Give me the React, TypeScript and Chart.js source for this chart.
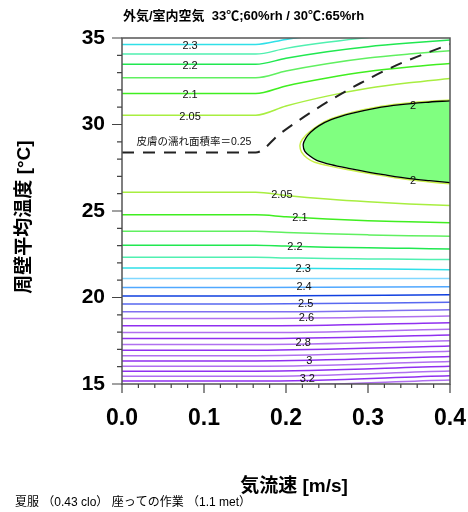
import { useEffect, useRef } from "react";
import { Chart, registerables } from "chart.js";

Chart.register(...registerables);

const FONT = "'Liberation Sans', 'Noto Sans CJK JP', sans-serif";

// ---- texts ----
const titleText = "外気/室内空気  33℃;60%rh / 30℃:65%rh";
const xTitle = "気流速 [m/s]";
const yTitle = "周壁平均温度 [°C]";
const footerText = "夏服 （0.43 clo） 座っての作業 （1.1 met）";
const wetLabel = "皮膚の濡れ面積率＝0.25";
const wetLabelPos = [0.0878, 28.99];

// ---- axes ----
const xMin = 0;
const xMax = 0.4;
const yMin = 15;
const yMax = 35;

// ---- contour lines above the comfort zone (curving up to the right) ----
const curveX = [0, 0.163, 0.2, 0.25, 0.3, 0.35, 0.4];
const upperLevels = [2.05, 2.1, 2.15, 2.2, 2.25, 2.3];
const upperTemps = [
  [30.54, 30.54, 31.07, 31.64, 32.09, 32.41, 32.66],
  [31.79, 31.79, 32.23, 32.69, 33.06, 33.32, 33.53],
  [32.7, 32.7, 33.09, 33.51, 33.84, 34.07, 34.26],
  [33.48, 33.48, 33.83, 34.21, 34.5, 34.71, 34.88],
  [34.07, 34.07, 34.4, 34.75, 35.03, 35.22, 35.38],
  [34.63, 34.63, 34.92, 35.23, 35.48, 35.65, 35.79],
];

// ---- contour lines below the zone (bending down to the right) ----
const lowerLevels = [2.05, 2.1, 2.15, 2.2, 2.25];
const lowerTemps = [
  [26.09, 26.09, 25.9, 25.69, 25.53, 25.41, 25.32],
  [24.78, 24.78, 24.67, 24.54, 24.44, 24.38, 24.32],
  [23.83, 23.83, 23.76, 23.68, 23.62, 23.57, 23.54],
  [23.02, 23.02, 22.97, 22.91, 22.87, 22.84, 22.81],
  [22.32, 22.32, 22.29, 22.25, 22.23, 22.21, 22.19],
];

// ---- nearly straight contour lines in the lower half ----
const flatX = [0, 0.163, 0.4];
const flatLevels = [
  2.3, 2.35, 2.4, 2.45, 2.5, 2.55, 2.6, 2.65, 2.7, 2.75, 2.8, 2.85, 2.9, 2.95,
  3.0, 3.05, 3.1, 3.15, 3.2,
];
const flatTemps = [
  [21.71, 21.71, 21.61],
  [21.1, 21.1, 21.1],
  [20.58, 20.58, 20.62],
  [20.08, 20.08, 20.16],
  [19.62, 19.62, 19.72],
  [19.17, 19.17, 19.29],
  [18.79, 18.79, 18.93],
  [18.36, 18.36, 18.54],
  [17.97, 17.97, 18.16],
  [17.63, 17.63, 17.83],
  [17.28, 17.28, 17.5],
  [16.95, 16.95, 17.19],
  [16.64, 16.64, 16.89],
  [16.33, 16.33, 16.59],
  [16.03, 16.03, 16.3],
  [15.74, 15.74, 16.02],
  [15.45, 15.45, 15.75],
  [15.17, 15.17, 15.48],
  [14.91, 14.91, 15.23],
];

// ---- level 2 zone (filled) ----
const zoneX = [0.4, 0.37, 0.34, 0.31, 0.28, 0.255, 0.24, 0.23, 0.224, 0.221, 0.223, 0.23, 0.2375, 0.255, 0.278, 0.3, 0.319, 0.351, 0.375, 0.4];
const zoneT = [31.37, 31.28, 31.15, 30.95, 30.64, 30.28, 29.92, 29.55, 29.2, 28.85, 28.45, 28.15, 27.93, 27.68, 27.45, 27.25, 27.1, 26.87, 26.75, 26.64];
const zoneLineX = [0.4, 0.37, 0.34, 0.31, 0.28, 0.255, 0.24, 0.228, 0.22, 0.217, 0.219, 0.226, 0.235, 0.255, 0.278, 0.3, 0.319, 0.351, 0.375, 0.4];
const zoneLineT = [31.42, 31.33, 31.2, 31.0, 30.7, 30.33, 29.97, 29.55, 29.15, 28.8, 28.4, 28.05, 27.82, 27.58, 27.37, 27.18, 27.03, 26.8, 26.68, 26.57];

// ---- skin wettedness 0.25 (dashed) ----
const wetX = [0, 0.163, 0.193, 0.2375, 0.29, 0.335, 0.4];
const wetT = [28.38, 28.38, 29.48, 30.92, 32.37, 33.43, 34.65];

// ---- contour labels ----
const labelText = ["2.3", "2.2", "2.1", "2.05", "2.05", "2.1", "2.2", "2.3", "2.4", "2.5", "2.6", "2.8", "3", "3.2", "2", "2"];
const labelX = [0.083, 0.083, 0.083, 0.083, 0.195, 0.217, 0.211, 0.221, 0.222, 0.224, 0.225, 0.221, 0.2285, 0.226, 0.355, 0.355];
const labelT = [34.54, 33.38, 31.71, 30.44, 25.9, 24.58, 22.94, 21.65, 20.58, 19.62, 18.81, 17.36, 16.33, 15.27, 31.06, 26.73];

// ---- styles ----
const levelColor: Record<string, string> = {
  "2": "#c8f048",
  "2.05": "#a8ee40",
  "2.1": "#40ee20",
  "2.15": "#60f060",
  "2.2": "#20e850",
  "2.25": "#50f0b0",
  "2.3": "#30e0e8",
  "2.35": "#80d8ff",
  "2.4": "#50a8ff",
  "2.45": "#1040e0",
  "2.5": "#5868f0",
  "2.55": "#8070f0",
};
function colorFor(level: number, idx: number) {
  const key = String(Number(level.toFixed(2)));
  if (levelColor[key]) return levelColor[key];
  return idx % 2 === 0 ? "#b070f0" : "#9030f0";
}

function pts(xs: number[], ys: number[]) {
  return xs.map((x, i) => ({ x, y: ys[i] }));
}

const decor = {
  id: "decor",
  afterDatasetsDraw(chart: any) {
    const { ctx, chartArea: a, scales } = chart;
    const x = scales.x;
    const y = scales.y;
    ctx.save();
    // frame
    ctx.strokeStyle = "#555";
    ctx.lineWidth = 1.5;
    ctx.strokeRect(a.left, a.top, a.right - a.left, a.bottom - a.top);
    // tick marks
    ctx.beginPath();
    ctx.lineWidth = 1.2;
    ctx.strokeStyle = "#444";
    for (let v = yMin; v <= yMax; v++) {
      const py = y.getPixelForValue(v);
      const len = v % 5 === 0 ? 10 : 5;
      ctx.moveTo(a.left - len, py);
      ctx.lineTo(a.left, py);
    }
    for (let i = 0; i <= 20; i++) {
      const px = x.getPixelForValue(i * 0.02);
      const len = i % 5 === 0 ? 9 : 4;
      ctx.moveTo(px, a.bottom);
      ctx.lineTo(px, a.bottom + len);
    }
    ctx.stroke();
    // contour labels
    ctx.fillStyle = "#111";
    ctx.font = `11px ${FONT}`;
    ctx.textAlign = "center";
    ctx.textBaseline = "middle";
    labelText.forEach((t, i) => {
      ctx.fillText(t, x.getPixelForValue(labelX[i]), y.getPixelForValue(labelT[i]));
    });
    ctx.font = `10.5px ${FONT}`;
    ctx.fillText(wetLabel, x.getPixelForValue(wetLabelPos[0]), y.getPixelForValue(wetLabelPos[1]));
    ctx.restore();
  },
  afterDraw(chart: any) {
    const { ctx, chartArea: a } = chart;
    ctx.save();
    ctx.fillStyle = "#000";
    ctx.textBaseline = "middle";
    ctx.textAlign = "left";
    ctx.font = `bold 13px ${FONT}`;
    ctx.fillText(titleText, a.left + 1, 16);
    ctx.font = `bold 19px ${FONT}`;
    ctx.textAlign = "center";
    ctx.fillText(xTitle, 294, 487);
    ctx.save();
    ctx.translate(25, 217);
    ctx.rotate(-Math.PI / 2);
    ctx.fillText(yTitle, 0, 0);
    ctx.restore();
    ctx.textAlign = "left";
    ctx.font = `12px ${FONT}`;
    ctx.fillText(footerText, 15, 503);
    ctx.restore();
  },
};

export default function App() {
  const ref = useRef<HTMLCanvasElement>(null);
  useEffect(() => {
    const canvas = ref.current!;
    const datasets: any[] = [];
    const lineBase = {
      pointRadius: 0,
      borderWidth: 1.5,
      fill: false,
      cubicInterpolationMode: "monotone",
      clip: 0,
      order: 3,
    };
    upperLevels.forEach((lv, i) => {
      datasets.push({ ...lineBase, label: `u${lv}`, data: pts(curveX, upperTemps[i]), borderColor: colorFor(lv, i) });
    });
    lowerLevels.forEach((lv, i) => {
      datasets.push({ ...lineBase, label: `l${lv}`, data: pts(curveX, lowerTemps[i]), borderColor: colorFor(lv, i) });
    });
    flatLevels.forEach((lv, i) => {
      datasets.push({ ...lineBase, label: `f${lv}`, data: pts(flatX, flatTemps[i]), borderColor: colorFor(lv, i) });
    });
    datasets.push({
      label: "zoneLine",
      data: pts(zoneLineX, zoneLineT),
      borderColor: levelColor["2"],
      borderWidth: 1.5,
      pointRadius: 0,
      tension: 0.3,
      fill: false,
      clip: 0,
      order: 2,
    });
    datasets.push({
      label: "zone",
      data: pts(zoneX, zoneT),
      borderColor: "#000",
      backgroundColor: "#80ff80",
      borderWidth: 1.3,
      pointRadius: 0,
      tension: 0.3,
      fill: "shape",
      clip: 0,
      order: 1,
    });
    datasets.push({
      label: "wet",
      data: pts(wetX, wetT),
      borderColor: "#222",
      borderWidth: 2,
      borderDash: [12, 9],
      pointRadius: 0,
      cubicInterpolationMode: "monotone",
      fill: false,
      clip: 0,
      order: 0,
    });

    const chart = new Chart(canvas, {
      type: "line",
      data: { datasets },
      options: {
        responsive: false,
        animation: false,
        devicePixelRatio: 1,
        layout: { padding: { top: 38, right: 18, left: 0, bottom: 0 } },
        plugins: { legend: { display: false }, tooltip: { enabled: false }, title: { display: false } },
        scales: {
          x: {
            type: "linear",
            min: xMin,
            max: xMax,
            grid: { display: false, drawTicks: false },
            border: { display: false },
            ticks: {
              stepSize: 0.1,
              autoSkip: false,
              maxRotation: 0,
              color: "#000",
              padding: 21,
              font: { family: FONT, size: 23, weight: "bold" },
              callback: (v: any) => Number(v).toFixed(1),
            },
            afterFit: (s: any) => {
              s.height = 128;
              s.paddingLeft = 0;
              s.paddingRight = 0;
            },
          },
          y: {
            type: "linear",
            min: yMin,
            max: yMax,
            grid: { display: false, drawTicks: false },
            border: { display: false },
            ticks: {
              stepSize: 5,
              color: "#000",
              padding: 17,
              font: { family: FONT, size: 21, weight: "bold" },
            },
            afterFit: (s: any) => {
              s.width = 122;
              s.paddingTop = 0;
              s.paddingBottom = 0;
            },
          },
        },
      } as any,
      plugins: [decor],
    });
    return () => chart.destroy();
  }, []);
  return (
    <div style={{ position: "fixed", left: 0, top: 0, width: 468, height: 512, background: "#fff" }}>
      <canvas ref={ref} width={468} height={512} style={{ width: 468, height: 512, display: "block" }} />
    </div>
  );
}
